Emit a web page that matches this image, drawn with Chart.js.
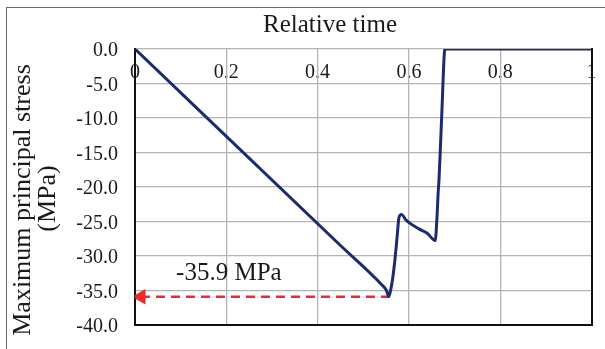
<!DOCTYPE html>
<html>
<head>
<meta charset="utf-8">
<script src="https://cdn.jsdelivr.net/npm/chart.js@4.4.1/dist/chart.umd.min.js"></script>
<style>
  html, body { margin: 0; padding: 0; background: #fff; }
  #wrap { position: relative; width: 605px; height: 349px; }
  #frame {
    position: absolute; left: 6px; top: 7px; right: 0; bottom: 0;
    border-left: 1px solid #6b6b6b; border-top: 1px solid #6b6b6b;
    pointer-events: none;
  }
</style>
</head>
<body>
<div id="wrap">
  <canvas id="stressChart" width="605" height="349"></canvas>
  <div id="frame"></div>
</div>
<script>
//
// stress history data
//
const relTime = [0, 0.449, 0.541, 0.551, 0.556, 0.5616, 0.565, 0.569, 0.5726, 0.576, 0.578, 0.5835,
                 0.594, 0.601, 0.623, 0.640, 0.653, 0.658, 0.660, 0.662, 0.664, 0.666, 0.672, 0.679, 1.0];
const stress  = [0, -28.4, -34.2, -35.0, -35.9, -34.4, -33.0, -30.8, -28.4, -25.8, -24.5, -24.0,
                 -24.8, -25.2, -26.1, -26.7, -27.6, -27.8, -26.2, -23.8, -20.9, -18.9, -9.5, 0, 0];

const timeTicks = [0, 0.2, 0.4, 0.6, 0.8, 1];
const timeTickLabels = ["0", "0.2", "0.4", "0.6", "0.8", "1"];

// minimum stress marker (arrow back to the y axis)
const minTime = 0.556;
const minStress = -35.9;
const arrowTipTime = 0.013;
const labelTime = 0.09;

const serif = '"Liberation Serif", "Times New Roman", serif';
const textColor = "#1a1a1a";

const stressPoints = relTime.map((t, i) => ({x: t, y: stress[i]}));

const textPlugin = {
  id: 'chartText',
  // x tick labels sit inside the plot, under the grid lines
  beforeDraw(chart) {
    const {ctx, chartArea, scales} = chart;
    ctx.save();
    ctx.fillStyle = textColor;
    ctx.font = '20px ' + serif;
    ctx.textAlign = 'center';
    ctx.textBaseline = 'middle';
    timeTicks.forEach((t, i) => {
      ctx.fillText(timeTickLabels[i], scales.x.getPixelForValue(t), chartArea.top + 24);
    });
    ctx.restore();
  },
  afterDraw(chart) {
    const {ctx, scales} = chart;
    ctx.save();
    ctx.fillStyle = textColor;
    ctx.textBaseline = 'middle';

    ctx.font = '25px ' + serif;
    ctx.textAlign = 'center';
    ctx.fillText('Relative time', 330, 25);

    ctx.save();
    ctx.font = '26px ' + serif;
    ctx.translate(23.5, 200);
    ctx.rotate(-Math.PI / 2);
    ctx.fillText('Maximum principal stress', 0, 0);
    ctx.fillText('(MPa)', 1.5, 25);
    ctx.restore();

    ctx.font = '25px ' + serif;
    ctx.textAlign = 'left';
    ctx.textBaseline = 'alphabetic';
    ctx.fillText(minStress.toFixed(1) + ' MPa', scales.x.getPixelForValue(labelTime),
                 scales.y.getPixelForValue(minStress) - 16.5);
    ctx.restore();
  }
};

const stressChart = new Chart("stressChart", {
  type: "line",
  data: {
    datasets: [{
        label: 'Maximum principal stress',
        data: stressPoints,
        borderColor: "#1c2a6e",
        borderWidth: 3,
        pointRadius: 0,
        cubicInterpolationMode: 'monotone',
        order: 0
      },
      {
        label: 'Minimum',
        data: [{x: arrowTipTime, y: minStress}, {x: minTime, y: minStress}],
        borderColor: "#ee2a2a",
        backgroundColor: "#ee2a2a",
        borderWidth: 2.5,
        borderDash: [9, 6],
        pointStyle: 'triangle',
        pointRotation: -90,
        pointRadius: [9, 0],
        pointBorderWidth: 0,
        order: 1
      }]
  },
  options: {
    responsive: false,
    animation: false,
    layout: {padding: {left: 6, top: 49, right: 13.5, bottom: 24}},
    plugins: {
      legend: {display: false},
      tooltip: {enabled: false}
    },
    scales: {
      x: {
        type: 'linear',
        min: 0,
        max: 1,
        ticks: {display: false, stepSize: 0.2},
        grid: {color: "#b4b4b4", lineWidth: 1.3, drawTicks: false},
        border: {color: "#111", width: 2},
        afterFit: s => { s.height = 0; s.paddingLeft = 0; s.paddingRight = 0; }
      },
      y: {
        min: -40,
        max: 0,
        ticks: {
          stepSize: 5,
          padding: 17,
          labelOffset: 2,
          color: textColor,
          font: {family: serif, size: 20},
          callback: v => v.toFixed(1)
        },
        grid: {color: "#b4b4b4", lineWidth: 1.3, drawTicks: false},
        border: {color: "#111", width: 2},
        afterFit: s => { s.width = 129; s.paddingTop = 0; s.paddingBottom = 0; }
      },
      y2: {
        position: 'right',
        min: -40,
        max: 0,
        ticks: {display: false},
        grid: {drawOnChartArea: false, drawTicks: false},
        border: {color: "#111", width: 2},
        afterFit: s => { s.width = 0; }
      }
    }
  },
  plugins: [textPlugin]
});
</script>
</body>
</html>
